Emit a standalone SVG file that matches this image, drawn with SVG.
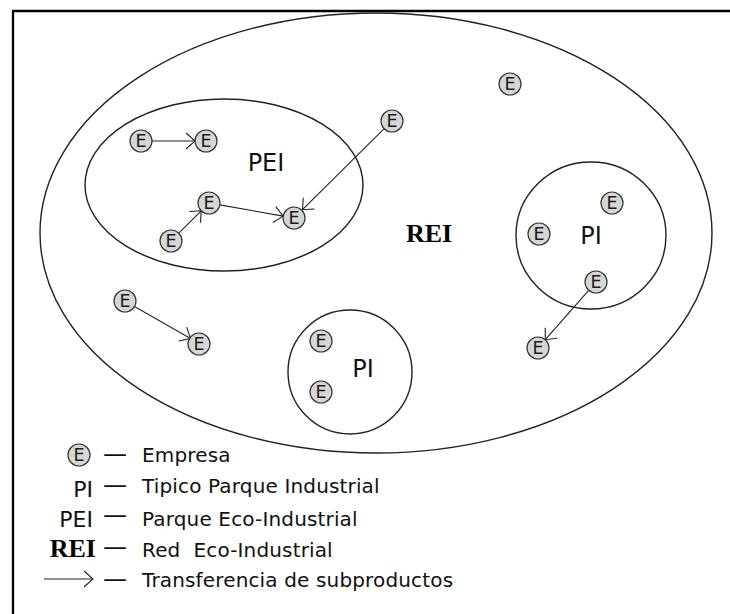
<svg xmlns="http://www.w3.org/2000/svg" width="730" height="614" viewBox="0 0 730 614">
  <style>
    .region { fill: none; stroke: #222; stroke-width: 1.4; }
    .enode circle { fill: #d6d6d6; stroke: #333; stroke-width: 1.2; }
    .enode text { font-family: "DejaVu Sans", Verdana, sans-serif; font-size: 17.5px; fill: #1a1a1a; text-anchor: middle; }
    .label { font-family: "DejaVu Sans", Verdana, sans-serif; font-size: 24px; fill: #111; text-anchor: middle; }
    .rei { font-family: "Liberation Serif", "Times New Roman", serif; font-weight: bold; font-size: 26px; fill: #000; }
    .leg { font-family: "DejaVu Sans", Verdana, sans-serif; font-size: 20px; letter-spacing: 0.15px; fill: #111; }
    .legsym { font-family: "DejaVu Sans", Verdana, sans-serif; font-size: 22px; fill: #111; text-anchor: end; }
    .dash { font-family: "DejaVu Sans", Verdana, sans-serif; font-size: 24px; fill: #111; }
    .conn { stroke: #222; stroke-width: 1.1; fill: none; marker-end: url(#chev); }
  </style>
  <defs>
    <marker id="chev" viewBox="0 0 11 18" refX="10" refY="9" markerWidth="11" markerHeight="18" markerUnits="userSpaceOnUse" orient="auto">
      <path d="M1,1 L10,9 L1,17" fill="none" stroke="#222" stroke-width="1.1"/>
    </marker>
  </defs>
  <rect width="730" height="614" fill="#fff"/>
  <path d="M13,614 V11 H730" fill="none" stroke="#000" stroke-width="2.3"/>

  <g id="REI">
    <ellipse class="region" cx="376" cy="233" rx="336" ry="220"/>
    <text class="rei" x="429" y="242" text-anchor="middle">REI</text>
  </g>
  <g id="PEI">
    <ellipse class="region" cx="224" cy="185" rx="139" ry="86"/>
    <text class="label" x="266" y="171">PEI</text>
  </g>
  <g id="PI-right">
    <ellipse class="region" cx="591" cy="235.5" rx="75" ry="73.5"/>
    <text class="label" x="591" y="244">PI</text>
  </g>
  <g id="PI-bottom">
    <circle class="region" cx="350" cy="372" r="62"/>
    <text class="label" x="363" y="377">PI</text>
  </g>

  <g id="connectors">
    <line class="conn" x1="152" y1="141" x2="195" y2="141"/>
    <line class="conn" x1="178.8" y1="233.2" x2="201.2" y2="210.8"/>
    <line class="conn" x1="219.8" y1="204.9" x2="283.2" y2="216.1"/>
    <line class="conn" x1="384.2" y1="128.7" x2="302.5" y2="209.7"/>
    <line class="conn" x1="134.5" y1="306.5" x2="190.5" y2="338.5"/>
    <line class="conn" x1="588.7" y1="290.3" x2="545.3" y2="339.7"/>
  </g>

  <g id="e1" class="enode"><circle cx="141" cy="141" r="11"/><text x="141" y="147.3">E</text></g>
  <g id="e2" class="enode"><circle cx="206" cy="141" r="11"/><text x="206" y="147.3">E</text></g>
  <g id="e3" class="enode"><circle cx="209" cy="203" r="11"/><text x="209" y="209.3">E</text></g>
  <g id="e4" class="enode"><circle cx="171" cy="241" r="11"/><text x="171" y="247.3">E</text></g>
  <g id="e5" class="enode"><circle cx="294" cy="218" r="11"/><text x="294" y="224.3">E</text></g>
  <g id="e6" class="enode"><circle cx="392" cy="121" r="11"/><text x="392" y="127.3">E</text></g>
  <g id="e7" class="enode"><circle cx="510" cy="84" r="11"/><text x="510" y="90.3">E</text></g>
  <g id="e8" class="enode"><circle cx="612" cy="203" r="11"/><text x="612" y="209.3">E</text></g>
  <g id="e9" class="enode"><circle cx="539" cy="234" r="11"/><text x="539" y="240.3">E</text></g>
  <g id="e10" class="enode"><circle cx="596" cy="282" r="11"/><text x="596" y="288.3">E</text></g>
  <g id="e11" class="enode"><circle cx="538" cy="348" r="11"/><text x="538" y="354.3">E</text></g>
  <g id="e12" class="enode"><circle cx="125" cy="301" r="11"/><text x="125" y="307.3">E</text></g>
  <g id="e13" class="enode"><circle cx="199" cy="344" r="11"/><text x="199" y="350.3">E</text></g>
  <g id="e14" class="enode"><circle cx="321" cy="341" r="11"/><text x="321" y="347.3">E</text></g>
  <g id="e15" class="enode"><circle cx="321" cy="392" r="11"/><text x="321" y="398.3">E</text></g>

  <g id="legend">
    <g id="leg-e" class="enode"><circle cx="79" cy="455" r="11"/><text x="79" y="461.3">E</text></g>
    <text class="legsym" x="93" y="497">PI</text>
    <text class="legsym" x="93" y="527">PEI</text>
    <text class="rei" x="96" y="557" text-anchor="end">REI</text>
    <line class="conn" x1="44" y1="579" x2="93" y2="579"/>
    <text class="dash" x="103" y="462">—</text>
    <text class="dash" x="103" y="493">—</text>
    <text class="dash" x="103" y="523">—</text>
    <text class="dash" x="103" y="555">—</text>
    <text class="dash" x="103" y="587">—</text>
    <text class="leg" x="142" y="462">Empresa</text>
    <text class="leg" x="142" y="493">Tipico Parque Industrial</text>
    <text class="leg" x="142" y="526">Parque Eco-Industrial</text>
    <text class="leg" x="142" y="557" xml:space="preserve">Red  Eco-Industrial</text>
    <text class="leg" x="142" y="587">Transferencia de subproductos</text>
  </g>
</svg>
